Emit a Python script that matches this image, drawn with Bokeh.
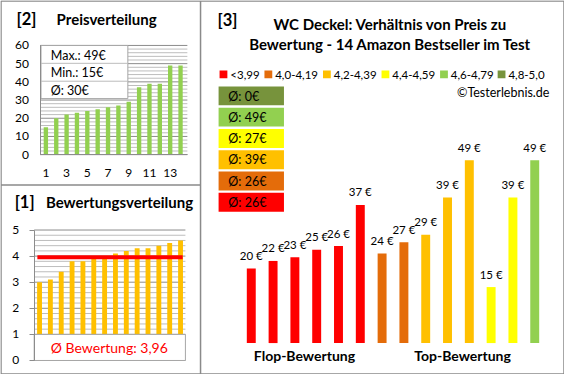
from bokeh.plotting import figure
from bokeh.models import Range1d, LinearAxis, FixedTicker
from bokeh.core.properties import value
from bokeh.embed import file_html
from bokeh.resources import INLINE

# ---------------- data ----------------
ratings = [3.0, 3.1, 3.4, 3.8, 3.8, 3.9, 4.0, 4.1, 4.2, 4.3, 4.3, 4.4, 4.5, 4.6]
prices = [20, 22, 23, 25, 26, 37, 24, 27, 29, 39, 49, 15, 39, 49]
bin_labels = ["<3,99", "4,0-4,19", "4,2-4,39", "4,4-4,59", "4,6-4,79", "4,8-5,0"]
bin_lower = [0.0, 4.0, 4.2, 4.4, 4.6, 4.8]
price_ticks = [0, 10, 20, 30, 40, 50, 60]
rank_ticks = [1, 3, 5, 7, 9, 11, 13]
rating_ticks = [0, 1, 2, 3, 4, 5]
price_minor_step = 2
rating_minor_step = 0.2

title_prices = "Preisverteilung"
title_ratings = "Bewertungsverteilung"
title_main = ["WC Deckel: Verhältnis von Preis zu", "Bewertung - 14 Amazon Bestseller im Test"]
group_labels = ["Flop-Bewertung", "Top-Bewertung"]
credit = "©Testerlebnis.de"

# ---------------- styles ----------------
bin_colors = ["#FF0000", "#E46C0A", "#FFC000", "#FFFF00", "#92D050", "#77933C"]
GREEN = "#92D050"
ORANGE = "#FFC000"
FONT = value("Lato")
BORDER = "#8a8a8a"
GRID_MAJOR = "#8c8c8c"
GRID_MINOR = "#bdbdbd"

W, H = 564, 374
SX = (W - 1) / 577.0
SY = (H - 1) / 386.0


def X(r):
    return (r - 1) * SX + 0.5


def Y(r):
    return (r - 1) * SY + 0.5


def lin(v0, p0, v1, p1):
    k = (v1 - v0) / (p1 - p0)
    return v0 - p0 * k, k


def xrange_of(ck):
    c, k = ck
    return Range1d(start=c, end=c + W * k)


def yrange_of(ck):
    c, k = ck
    return Range1d(start=c + H * k, end=c)


def px2v(ck, p):
    c, k = ck
    return c + p * k


n = len(prices)
ranks = list(range(1, n + 1))
sorted_prices = sorted(prices)
sorted_ratings = sorted(ratings)
bins = [max(i for i, lo in enumerate(bin_lower) if r >= lo - 1e-9) for r in ratings]
bar_colors = [bin_colors[b] for b in bins]
mean_price = sum(prices) / n
mean_rating = sum(ratings) / n

p = figure(width=W, height=H, x_range=Range1d(0, W), y_range=Range1d(H, 0),
           x_axis_type=None, y_axis_type=None, toolbar_location=None,
           output_backend="svg", min_border=0, outline_line_color=None,
           background_fill_color="white", border_fill_color="white")
p.xgrid.visible = False
p.ygrid.visible = False

tlx = lin(1, X(47), 14, X(185))
tly = lin(0, Y(160), 60, Y(47))
blx = lin(1, X(40.5), 14, X(185))
bly = lin(0, Y(373), 5, Y(238))
rx = lin(0, X(257.5), 13, X(548))
ry = lin(0, Y(355), 49, Y(165.7))
p.extra_x_ranges = {"tlx": xrange_of(tlx), "blx": xrange_of(blx), "rx": xrange_of(rx)}
p.extra_y_ranges = {"tly": yrange_of(tly), "bly": yrange_of(bly), "ry": yrange_of(ry)}


def txt(x, y, s, size, bold=False, align="left", color="black", xr="default", yr="default",
        baseline="middle", y_offset=0):
    p.text(x=x if isinstance(x, list) else [x], y=y if isinstance(y, list) else [y],
           text=s if isinstance(s, list) else [s],
           text_font=FONT, text_font_size=value(f"{size}px"),
           text_font_style="bold" if bold else "normal", text_align=align,
           text_baseline=baseline, text_color=color, y_offset=y_offset,
           x_range_name=xr, y_range_name=yr)


# ---------------- panel borders ----------------
p.quad(left=[X(1)], right=[X(578)], top=[Y(1)], bottom=[Y(387)], fill_color=None,
       line_color=BORDER, line_width=1.5)
p.segment(x0=[X(205.5)], x1=[X(205.5)], y0=[Y(1)], y1=[Y(387)], line_color=BORDER, line_width=1.5)
p.segment(x0=[X(1)], x1=[X(205.5)], y0=[Y(191.5)], y1=[Y(191.5)], line_color=BORDER, line_width=1.5)

# ---------------- [2] Preisverteilung ----------------
txt(X(17), Y(20), "[2]", 16.5, bold=True)
txt(X(58), Y(20), title_prices, 15, bold=True)

pminor = [v for v in range(price_ticks[0], price_ticks[-1] + 1, price_minor_step) if v not in price_ticks]
p.segment(x0=[X(41)] * len(pminor), x1=[X(192)] * len(pminor), y0=pminor, y1=pminor,
          y_range_name="tly", line_color=GRID_MINOR, line_width=1)
p.segment(x0=[X(41)] * len(price_ticks), x1=[X(192)] * len(price_ticks), y0=price_ticks, y1=price_ticks,
          y_range_name="tly", line_color=GRID_MAJOR, line_width=1)
p.vbar(x=ranks, top=sorted_prices, bottom=0, width=0.42, fill_color=GREEN, line_color=None,
       x_range_name="tlx", y_range_name="tly")

ax = LinearAxis(x_range_name="default", y_range_name="tly", fixed_location=X(41),
                bounds=(price_ticks[0], price_ticks[-1]), ticker=FixedTicker(ticks=price_ticks),
                major_tick_out=0, major_tick_in=0, minor_tick_out=0, minor_tick_in=0,
                major_label_standoff=11, axis_line_color=GRID_MAJOR,
                major_label_text_font="Lato", major_label_text_font_size="12px",
                major_label_text_color="black")
p.add_layout(ax, "left")
ax2 = LinearAxis(x_range_name="tlx", y_range_name="tly", fixed_location=0,
                 bounds=(px2v(tlx, X(41)), px2v(tlx, X(192))), ticker=FixedTicker(ticks=rank_ticks),
                 major_tick_out=0, major_tick_in=0, minor_tick_out=0, minor_tick_in=0,
                 major_label_standoff=14, axis_line_color=GRID_MAJOR,
                 major_label_text_font="Lato", major_label_text_font_size="12px",
                 major_label_text_color="black")
p.add_layout(ax2, "below")

p.quad(left=[X(42)], right=[X(131)], top=[Y(47)], bottom=[Y(102)], fill_color="white",
       line_color="#a6a6a6", line_width=1)
p.segment(x0=[X(42), X(42)], x1=[X(131), X(131)], y0=[Y(65.5), Y(84)], y1=[Y(65.5), Y(84)],
          line_color="#bcbcbc", line_width=1)
info = [f"Max.: {max(prices)}€", f"Min.: {min(prices)}€", f"Ø: {int(mean_price + 0.5)}€"]
txt([X(52)] * 3, [Y(57), Y(75.5), Y(93.5)], info, 12.5)

# ---------------- [1] Bewertungsverteilung ----------------
txt(X(15), Y(209), "[1]", 16.5, bold=True)
txt(X(47), Y(209), title_ratings, 15, bold=True)

steps = int(round((rating_ticks[-1] - rating_ticks[0]) / rating_minor_step))
rminor = [round(rating_ticks[0] + i * rating_minor_step, 2) for i in range(steps + 1)]
rminor = [v for v in rminor if v not in rating_ticks]
p.segment(x0=[X(35)] * len(rminor), x1=[X(190)] * len(rminor), y0=rminor, y1=rminor,
          y_range_name="bly", line_color=GRID_MINOR, line_width=1)
p.segment(x0=[X(35)] * len(rating_ticks), x1=[X(190)] * len(rating_ticks), y0=rating_ticks,
          y1=rating_ticks, y_range_name="bly", line_color=GRID_MAJOR, line_width=1)
p.vbar(x=ranks, top=sorted_ratings, bottom=0, width=0.45, fill_color=ORANGE, line_color=None,
       x_range_name="blx", y_range_name="bly")
p.segment(x0=[ranks[0] - 0.2], x1=[ranks[-1] + 0.2], y0=[mean_rating], y1=[mean_rating],
          x_range_name="blx", y_range_name="bly", line_color="#FF0000", line_width=4)

ay = LinearAxis(x_range_name="default", y_range_name="bly", fixed_location=X(35),
                bounds=(rating_ticks[0], rating_ticks[-1]), ticker=FixedTicker(ticks=rating_ticks),
                major_tick_out=5, major_tick_in=0, minor_tick_out=0, minor_tick_in=0,
                major_label_standoff=10, axis_line_color=GRID_MAJOR, major_tick_line_color=GRID_MAJOR,
                major_label_text_font="Lato", major_label_text_font_size="12px",
                major_label_text_color="black")
p.add_layout(ay, "left")

p.quad(left=[X(35)], right=[X(190)], top=[1], bottom=[0], y_range_name="bly",
       fill_color="white", line_color="#a6a6a6", line_width=1)
txt(X(112), 0.5, "Ø Bewertung: " + f"{mean_rating:.2f}".replace(".", ","), 14,
    align="center", color="#FF0000", yr="bly")

# ---------------- [3] main chart ----------------
txt(X(223), Y(21), "[3]", 16.5, bold=True)
txt([X(400), X(400)], [Y(25), Y(45)], title_main, 15, bold=True, align="center")

legend_x = [225, 271, 331, 391, 451, 510]
p.quad(left=[X(v) for v in legend_x], right=[X(v + 8) for v in legend_x],
       top=[Y(73)] * 6, bottom=[Y(81)] * 6, fill_color=bin_colors, line_color=None)
txt([X(v + 11) for v in legend_x], [Y(77.5)] * 6, bin_labels, 11.5)
txt(X(563), Y(96), credit, 12.5, align="right")

# average boxes (top: highest bin)
for row, b in enumerate(reversed(range(len(bin_colors)))):
    vals = [pr for pr, bi in zip(prices, bins) if bi == b]
    avg = int(sum(vals) / len(vals) + 0.5) if vals else 0
    top = 89.5 + 22 * row
    p.quad(left=[X(224)], right=[X(291)], top=[Y(top)], bottom=[Y(top + 19.5)],
           fill_color=bin_colors[b], line_color=None)
    txt(X(234), Y(top + 10), f"Ø: {avg}€", 12.5)

idx = list(range(n))
p.vbar(x=idx, top=prices, bottom=0, width=0.41, fill_color=bar_colors, line_color=None,
       x_range_name="rx", y_range_name="ry")
txt(idx, prices, [f"{v} €" for v in prices], 11.5, align="center", xr="rx", yr="ry", y_offset=-13)

txt([X(312), X(474)], [Y(368), Y(368)], group_labels, 14, bold=True, align="center")

open("out.html", "w").write(file_html(p, INLINE))
